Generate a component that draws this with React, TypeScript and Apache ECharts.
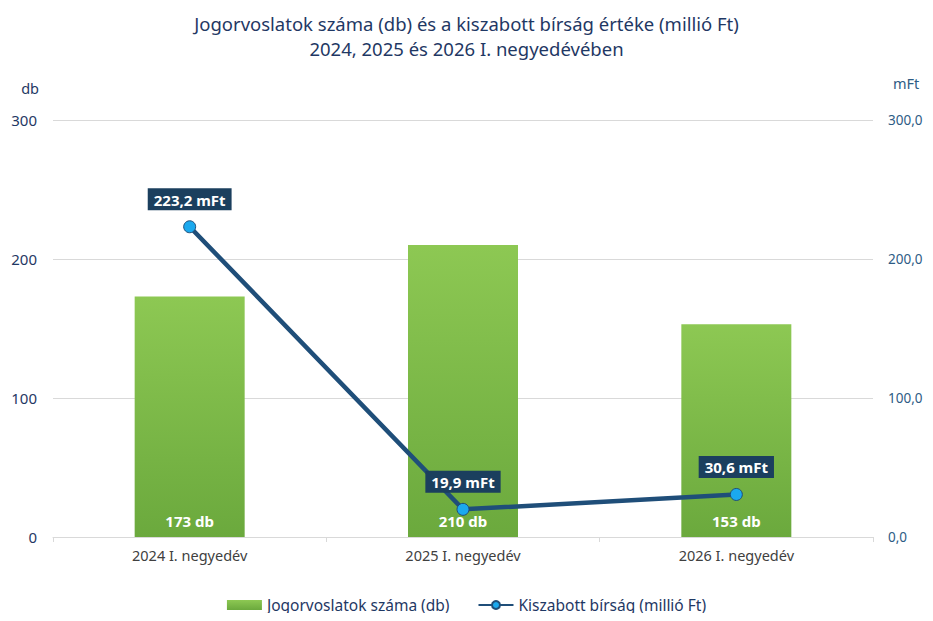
import React, { useEffect, useRef } from "react";
import * as echarts from "echarts";

const categories = ["2024 I. negyedév", "2025 I. negyedév", "2026 I. negyedév"];
const countValues = [173, 210, 153];
const fineValues = [223.2, 19.9, 30.6];
const leftTicks = [0, 100, 200, 300];
const titleLines = [
  "Jogorvoslatok száma (db) és a kiszabott bírság értéke (millió Ft)",
  "2024, 2025 és 2026 I. negyedévében",
];
const seriesNames = ["Jogorvoslatok száma (db)", "Kiszabott bírság (millió Ft)"];

const FONT = "'Noto Sans', sans-serif";

export default function App() {
  const ref = useRef<HTMLDivElement>(null);
  useEffect(() => {
    if (!ref.current) return;
    const chart = echarts.init(ref.current, undefined, { renderer: "svg" });
    const barGradient = new echarts.graphic.LinearGradient(0, 0, 0, 1, [
      { offset: 0, color: "#8DC853" },
      { offset: 1, color: "#6BA93D" },
    ]);
    chart.setOption({
      animation: false,
      textStyle: { fontFamily: FONT },
      title: {
        text: titleLines.join("\n"),
        left: "center",
        top: 6,
        textStyle: {
          fontFamily: FONT,
          fontSize: 18.5,
          fontWeight: "normal",
          color: "#1F3864",
          lineHeight: 25,
        },
      },
      grid: { left: 53, right: 60, top: 120, bottom: 84 },
      legend: {
        bottom: 3,
        left: "center",
        itemWidth: 35,
        itemHeight: 10,
        itemGap: 28,
        textStyle: { fontFamily: FONT, fontSize: 15.5, color: "#1F3864" },
        data: [
          { name: seriesNames[0], icon: "rect" },
          { name: seriesNames[1] },
        ],
      },
      xAxis: {
        type: "category",
        data: categories,
        axisLine: { lineStyle: { color: "#D9D9D9" } },
        axisTick: { show: true, length: 5, lineStyle: { color: "#D9D9D9" } },
        axisLabel: { fontFamily: FONT, fontSize: 14.5, color: "#404040", margin: 10 },
      },
      yAxis: [
        {
          type: "value",
          min: 0,
          max: 300,
          interval: 100,
          name: "db",
          nameLocation: "end",
          nameGap: 25,
          nameTextStyle: { fontFamily: FONT, fontSize: 14.5, color: "#1F3864", align: "right", padding: [0, 14, 0, 0] },
          axisLine: { show: false },
          axisTick: { show: false },
          splitLine: { lineStyle: { color: "#D9D9D9" } },
          axisLabel: {
            fontFamily: FONT,
            fontSize: 15,
            color: "#1F3864",
            margin: 16,
            formatter: (v: number) => (leftTicks.includes(v) ? String(v) : ""),
          },
        },
        {
          type: "value",
          min: 0,
          max: 300,
          interval: 100,
          name: "mFt",
          nameLocation: "end",
          nameGap: 30,
          nameTextStyle: { fontFamily: FONT, fontSize: 14.5, color: "#2E5C85", align: "left", padding: [0, 0, 0, 20] },
          axisLine: { show: false },
          axisTick: { show: false },
          splitLine: { show: false },
          axisLabel: {
            fontFamily: FONT,
            fontSize: 13.5,
            color: "#2E5C85",
            margin: 15,
            formatter: (v: number) => v.toFixed(1).replace(".", ","),
          },
        },
      ],
      series: [
        {
          name: seriesNames[0],
          type: "bar",
          yAxisIndex: 0,
          data: countValues,
          barWidth: 110,
          itemStyle: { color: barGradient },
          label: {
            show: true,
            position: "insideBottom",
            distance: 9,
            color: "#FFFFFF",
            fontWeight: "bold",
            fontFamily: FONT,
            fontSize: 15,
            formatter: (p: any) => `${p.value} db`,
          },
        },
        {
          name: seriesNames[1],
          type: "line",
          yAxisIndex: 1,
          data: fineValues,
          symbol: "circle",
          symbolSize: 12,
          lineStyle: { color: "#1F4E79", width: 4.5 },
          itemStyle: { color: "#1BA9EE", borderColor: "#1F4E79", borderWidth: 1 },
          z: 5,
          label: {
            show: true,
            position: "top",
            distance: 10,
            color: "#FFFFFF",
            fontWeight: "bold",
            fontFamily: FONT,
            fontSize: 15,
            backgroundColor: "#1B3F5E",
            padding: [4, 6, 3, 6],
            formatter: (p: any) => `${String(p.value).replace(".", ",")} mFt`,
          },
        },
      ],
    });
    return () => chart.dispose();
  }, []);
  return <div ref={ref} style={{ width: 933, height: 621, margin: -8 }} />;
}
